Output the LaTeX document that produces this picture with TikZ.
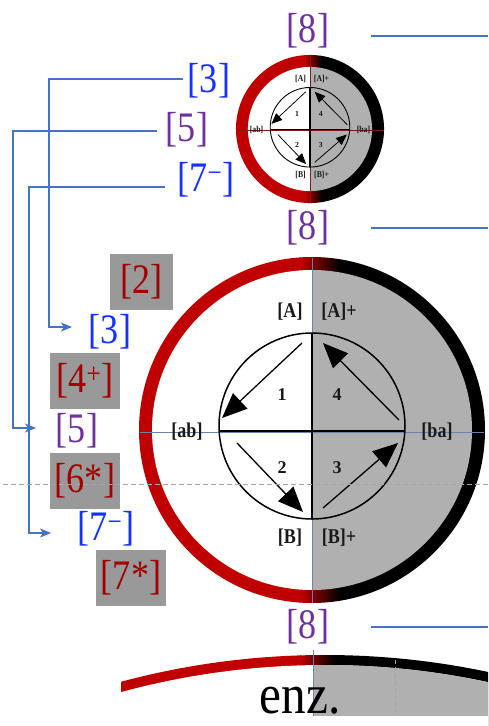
\documentclass[tikz,border=0pt]{standalone}
\usepackage{fontspec}
\setmainfont{Liberation Serif}
\newfontfamily\lblfont[FakeStretch=0.86]{Liberation Serif}
\newfontfamily\enzfont[FakeStretch=0.88]{Liberation Serif}
\usetikzlibrary{arrows.meta}
\definecolor{ringred}{RGB}{192,0,0}
\definecolor{circgray}{RGB}{176,176,176}
\definecolor{boxgray}{RGB}{153,153,153}
\definecolor{boxred}{RGB}{165,0,0}
\definecolor{lblblue}{RGB}{20,50,255}
\definecolor{lblpurple}{RGB}{112,48,160}
\definecolor{connblue}{RGB}{68,114,196}
\definecolor{axisblue}{RGB}{110,130,175}
\definecolor{axisred}{RGB}{140,20,20}
\definecolor{txtdark}{RGB}{25,25,25}
\definecolor{dashgray}{RGB}{165,165,165}
\tikzset{
 lbl/.style={font=\lblfont\fontsize{42}{42}\selectfont, inner sep=0pt},
 bluelbl/.style={lbl, text=lblblue},
 purplelbl/.style={lbl, text=lblpurple},
 graybox/.style={lbl, fill=boxgray, text=boxred, minimum height=56pt},
 conn/.style={connblue, line width=1.1pt, -{Stealth[length=11pt,width=9pt,inset=3pt]}},
 rule8/.style={connblue, line width=2pt},
 dlbl/.style={font=\lblfont\bfseries\fontsize{21}{21}\selectfont, text=txtdark, inner sep=0pt},
 dnum/.style={font=\bfseries\fontsize{18}{18}\selectfont, text=txtdark, inner sep=0pt},
}
% #1 prefix, #2 centre, #3 scale, #4 inner ring radius, #5 axis colour, #6 line width factor
\newcommand{\phasedia}[6]{%
\begin{scope}[shift={#2}, scale=#3, every node/.append style={transform shape}]
  \begin{scope}
    \clip (0,0) circle[radius=173];
    \fill[ringred] (-180,-180) rectangle (-11,180);
    \shade[left color=ringred, right color=black] (-12,-180) rectangle (28,180);
    \fill[black] (27,-180) rectangle (180,180);
  \end{scope}
  \fill[white] (0,#4) arc[start angle=90, end angle=270, radius=#4] -- cycle;
  \fill[circgray] (0,-#4) arc[start angle=-90, end angle=90, radius=#4] -- cycle;
  \draw[#5, line width=#6*0.8pt] (-172,-2) -- (172,-2);
  \draw[#5, line width=#6*0.8pt] (0,172) -- (0,-173);
  \draw[black, line width=#6*1.5pt] (0,4) circle[radius=93];
  \draw[black, line width=#6*1.8pt] (-93,-1) -- (93,-1);
  \draw[black, line width=#6*1.8pt] (0,97) -- (0,-89);
  \coordinate (#1p1) at (-10,87);  \coordinate (#1q1) at (-90,12);
  \coordinate (#1p4) at (87,10);   \coordinate (#1q4) at (11,87);
  \coordinate (#1p2) at (-75,-13); \coordinate (#1q2) at (-9,-82);
  \coordinate (#1p3) at (11,-78);  \coordinate (#1q3) at (86,-13);
  \foreach \k in {1,2,3,4}{
    \draw[black, line width=#6*1.3pt, -{Triangle[length=25pt,width=21pt,scale=#3]}] (#1p\k) -- (#1q\k);
  }
  \node[dlbl] (#1A)  at (-22,118) {[A]};
  \node[dlbl] (#1Ap) at (27,118) {[A]+};
  \node[dlbl] (#1B)  at (-22,-108) {[B]};
  \node[dlbl] (#1Bp) at (27,-108) {[B]+};
  \node[dlbl] (#1ab) at (-125,-2) {[ab]};
  \node[dlbl] (#1ba) at (125,-2) {[ba]};
  \node[dnum] (#1n1) at (-30,35) {1};
  \node[dnum] (#1n4) at (25,35) {4};
  \node[dnum] (#1n2) at (-30,-38) {2};
  \node[dnum] (#1n3) at (25,-38) {3};
\end{scope}}

\begin{document}
\begin{tikzpicture}[x=1pt,y=1pt]
\useasboundingbox (0,0) rectangle (488,-726);
\fill[white] (0,0) rectangle (488,-726);

% phase diagrams
\phasedia{s}{(310,-129)}{0.428}{145}{axisred}{0.6}
\phasedia{b}{(312,-430)}{1}{160}{axisblue}{1}

% bottom arc (cut off)
\begin{scope}
  \clip (121,-640) rectangle (488,-726);
  \begin{scope}
    \clip (325,-1440) circle[radius=785];
    \fill[ringred] (100,-640) rectangle (301,-726);
    \shade[left color=ringred, right color=black] (300,-640) rectangle (334,-726);
    \fill[black] (333,-640) rectangle (490,-726);
  \end{scope}
  \fill[white] (325,-1440) circle[radius=775];
  \begin{scope}
    \clip (325,-1440) circle[radius=775];
    \fill[circgray] (313,-640) rectangle (488,-716);
  \end{scope}
  \draw[axisblue, line width=1pt] (313,-650) -- (313,-716);
  \draw[dashgray, dash pattern=on 4pt off 3pt, line width=1pt] (395,-660) -- (395,-716);
\end{scope}
\node[font=\enzfont\fontsize{56}{56}\selectfont, anchor=base, inner sep=0pt] (enz) at (300,-713) {enz.};

% labels
\node[purplelbl] (t8) at (308,-31) {[8]};
\node[bluelbl] (t3) at (209,-81) {[3]};
\node[purplelbl] (t5) at (187,-130) {[5]};
\node[bluelbl] (t7) at (206,-180) {[7\textsuperscript{\char"2212}]};
\node[purplelbl] (m8) at (308,-228) {[8]};
\node[graybox, minimum width=63pt] (g2) at (141.5,-282) {[2]};
\node[bluelbl] (b3) at (110,-332) {[3]};
\node[graybox, minimum width=70pt] (g4) at (85,-381) {[4\textsuperscript{+}]};
\node[purplelbl] (b5) at (77,-431) {[5]};
\node[graybox, minimum width=70pt] (g6) at (85,-480.5) {[6*]};
\node[bluelbl] (b7) at (106,-529) {[7\textsuperscript{\char"2212}]};
\node[graybox, minimum width=70pt] (g7) at (131,-577.5) {[7*]};
\node[purplelbl] (e8) at (308,-627) {[8]};

% rules right of the [8] labels
\coordinate (r1) at (488,-36);
\coordinate (r2) at (488,-228);
\coordinate (r3) at (488,-627);
\draw[rule8] ([shift={(42pt,-5pt)}]t8.east) -- (r1);
\draw[rule8] ([shift={(42pt,0pt)}]m8.east) -- (r2);
\draw[rule8] ([shift={(42pt,0pt)}]e8.east) -- (r3);

% connectors
\coordinate (k3) at (49,-327); \coordinate (a3) at (72,-327);
\draw[conn] ([shift={(-5pt,2pt)}]t3.west) -| (k3) -- (a3);
\coordinate (k5) at (13,-428); \coordinate (a5) at (36,-428);
\draw[conn] ([shift={(-9pt,-1pt)}]t5.west) -| (k5) -- (a5);
\coordinate (k7) at (29,-533); \coordinate (a7) at (51,-533);
\draw[conn] ([shift={(-12pt,-7pt)}]t7.west) -| (k7) -- (a7);

% dashed guide
\coordinate (dl) at (3,-484); \coordinate (dr) at (488,-484);
\draw[dashgray, dash pattern=on 5pt off 3pt, line width=0.8pt] (dl) -- (dr);
\end{tikzpicture}
\end{document}
